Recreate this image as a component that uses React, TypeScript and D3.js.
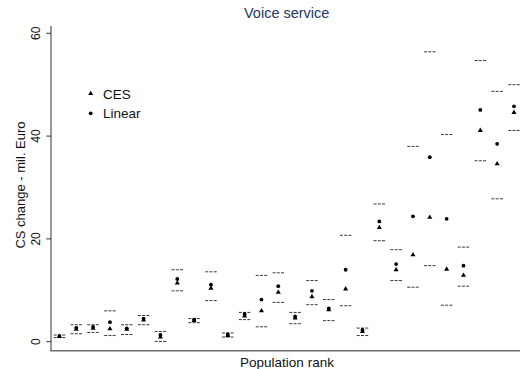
import React from "react";
import * as d3 from "d3";

const groups = d3.range(1, 29);
const ces = [1.0, 2.4, 2.6, 2.5, 2.4, 4.2, 0.9, 11.4, 4.1, 10.4, 1.2, 5.0, 6.0, 9.6, 4.6, 8.75, 6.2, 10.25, 2.0, 22.2, 14.0, 16.9, 24.2, 14.1, 12.9, 41.1, 34.6, 44.6];
const linear = [1.1, 2.7, 2.9, 3.8, 2.6, 4.5, 1.3, 12.2, 4.3, 11.1, 1.4, 5.4, 8.2, 10.8, 4.9, 9.9, 6.5, 14.0, 2.3, 23.4, 15.1, 24.4, 35.9, 23.9, 14.8, 45.1, 38.5, 45.8];
const upper = [1.3, 3.3, 3.3, 6.0, 3.3, 5.1, 2.0, 14.0, 4.5, 13.6, 1.7, 5.7, 12.9, 13.4, 5.7, 11.9, 8.2, 20.7, 2.65, 26.8, 17.9, 38.0, 56.4, 40.3, 18.4, 54.7, 48.7, 50.0];
const lower = [0.8, 1.55, 1.8, 1.2, 1.4, 3.3, 0.05, 9.9, 3.7, 8.0, 0.9, 4.3, 2.9, 7.65, 3.5, 7.2, 4.1, 7.0, 1.2, 19.65, 11.9, 10.6, 14.8, 7.1, 10.8, 35.2, 27.8, 41.1];
const yTicks = [0, 20, 40, 60];
const legendItems = ["CES", "Linear"];

const W = 520;
const H = 369;
const FONT = "'Liberation Sans', Arial, Helvetica, sans-serif";

export default function App() {
  const x = d3.scaleLinear().domain([0.5, 28.5]).range([51, 522.4]);
  const y = d3.scaleLinear().domain([0, 60]).range([341.7, 33.3]);
  const tri = d3.symbol().type(d3.symbolTriangle).size(11)();
  const axisColor = "#6e6e6e";
  const dashStroke = "#3a3a3a";
  const dashW = 11.5;

  const dash = (cx: number, cy: number, key: string) => (
    <line
      key={key}
      x1={cx - dashW / 2}
      x2={cx + dashW / 2}
      y1={cy}
      y2={cy}
      stroke={dashStroke}
      strokeWidth={1}
      strokeDasharray="3,1.25"
    />
  );

  return (
    <svg
      width={W}
      height={H}
      style={{ position: "absolute", left: 0, top: 0, background: "#fff" }}
      fontFamily={FONT}
    >
      <rect x={0} y={0} width={W} height={H} fill="#fff" />
      {/* title */}
      <text x={286.7} y={18.3} textAnchor="middle" fontSize={14.5} fill="#26365e">
        Voice service
      </text>
      {/* axes */}
      <line x1={51} x2={51} y1={26} y2={351} stroke={axisColor} strokeWidth={1.4} />
      <line x1={50.3} x2={W} y1={350.7} y2={350.7} stroke={axisColor} strokeWidth={1.4} />
      {yTicks.map((t) => (
        <g key={t}>
          <line x1={46.3} x2={51} y1={y(t)} y2={y(t)} stroke="#333" strokeWidth={1} />
          <text
            transform={`translate(39.5,${y(t)}) rotate(-90)`}
            textAnchor="middle"
            fontSize={12}
            fill="#111"
          >
            {t}
          </text>
        </g>
      ))}
      <text
        transform={`translate(24.5,185) rotate(-90)`}
        textAnchor="middle"
        fontSize={13}
        fill="#111"
      >
        CS change - mil. Euro
      </text>
      <text x={287} y={367} textAnchor="middle" fontSize={13.5} fill="#111">
        Population rank
      </text>
      {/* data */}
      {groups.map((g, i) => (
        <g key={g}>
          {dash(x(g), y(upper[i]), "u")}
          {dash(x(g), y(lower[i]), "l")}
          <circle cx={x(g)} cy={y(linear[i])} r={1.9} fill="#000" />
          <path d={tri!} transform={`translate(${x(g)},${y(ces[i])})`} fill="#000" />
        </g>
      ))}
      {/* legend */}
      <path d={tri!} transform="translate(90.7,93.6)" fill="#000" />
      <text x={103} y={98.5} fontSize={13.5} fill="#111">
        {legendItems[0]}
      </text>
      <circle cx={90.7} cy={113.3} r={1.9} fill="#000" />
      <text x={103} y={118.3} fontSize={13.5} fill="#111">
        {legendItems[1]}
      </text>
    </svg>
  );
}
